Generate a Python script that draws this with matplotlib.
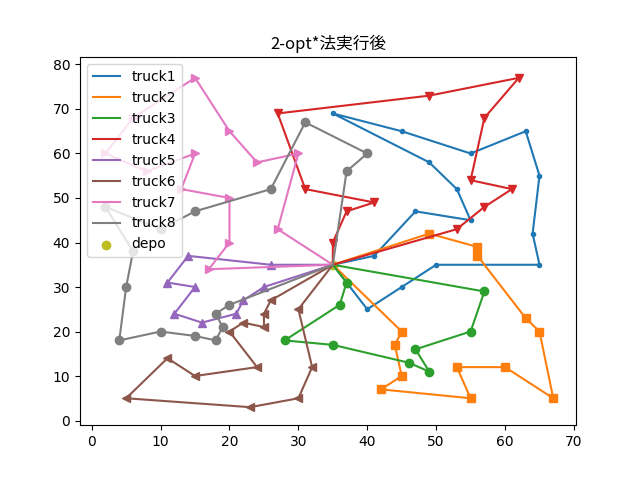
import matplotlib
matplotlib.use("Agg")
import matplotlib.pyplot as plt

depot = (35, 35)

# customer visit order for each truck (depot is added at both ends)
truck1 = [(41, 37), (47, 47), (55, 45), (53, 52), (49, 58), (35, 69), (45, 65),
          (55, 60), (63, 65), (65, 55), (64, 42), (65, 35), (50, 35), (45, 30),
          (40, 25)]
truck2 = [(49, 42), (56, 39), (56, 37), (63, 23), (65, 20), (67, 5), (60, 12),
          (53, 12), (55, 5), (42, 7), (45, 10), (44, 17), (45, 20)]
truck3 = [(37, 31), (36, 26), (28, 18), (35, 17), (46, 13), (49, 11), (47, 16),
          (55, 20), (57, 29)]
truck4 = [(35, 40), (37, 47), (41, 49), (31, 52), (27, 69), (49, 73), (62, 77),
          (57, 68), (55, 54), (61, 52), (57, 48), (53, 43)]
truck5 = [(26, 35), (14, 37), (11, 31), (15, 30), (12, 24), (16, 22), (21, 24),
          (22, 27), (25, 30)]
truck6 = [(26, 27), (25, 24), (25, 21), (22, 22), (20, 20), (24, 12), (15, 10),
          (11, 14), (5, 5), (23, 3), (30, 5), (32, 12), (30, 25)]
truck7 = [(17, 34), (20, 40), (20, 50), (13, 52), (15, 60), (8, 56), (2, 60),
          (6, 68), (15, 77), (20, 65), (24, 58), (30, 60), (27, 43)]
truck8 = [(37, 56), (40, 60), (31, 67), (26, 52), (15, 47), (10, 43), (2, 48),
          (6, 38), (5, 30), (4, 18), (10, 20), (15, 19), (18, 18), (19, 21),
          (18, 24), (20, 26)]

routes = [truck1, truck2, truck3, truck4, truck5, truck6, truck7, truck8]
markers = [".", "s", "o", "v", "^", "<", ">", "o"]

fig, ax = plt.subplots(figsize=(6.4, 4.78), dpi=100)

for i, (route, mk) in enumerate(zip(routes, markers)):
    path = [depot] + route + [depot]
    xs = [p[0] for p in path]
    ys = [p[1] for p in path]
    color = f"C{i}"
    ax.plot(xs, ys, color=color, label=f"truck{i + 1}")
    ax.plot(xs[1:-1], ys[1:-1], marker=mk, linestyle="", color=color)

ax.scatter([depot[0]], [depot[1]], color="C8", label="depo")

# limits as they come out in the original (a bit wider than default margins)
ax.set_xlim(-1.7, 70.3)
ax.set_ylim(-1.1, 81.6)

ax.set_title("2-opt*法実行後", family=["Noto Sans CJK JP", "DejaVu Sans"])
ax.legend(loc="upper left")
fig.savefig("out.png")
